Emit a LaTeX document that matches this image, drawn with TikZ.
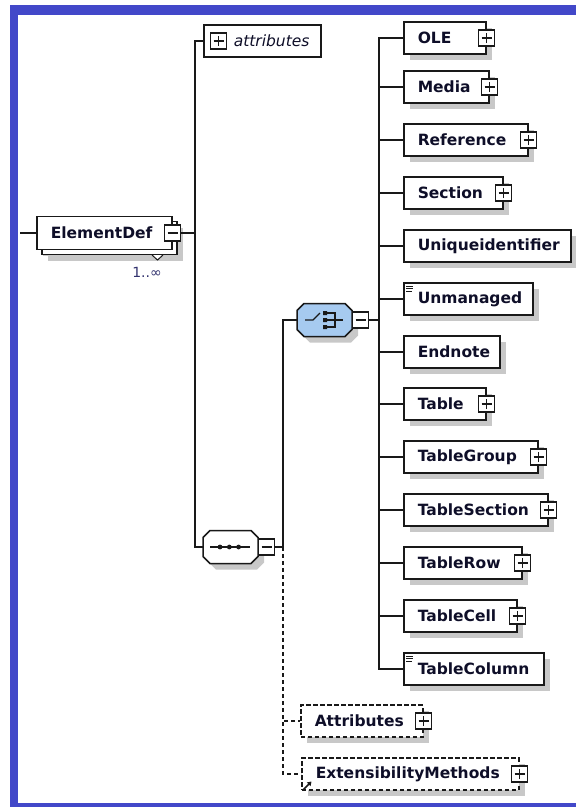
\documentclass[tikz,border=0pt]{standalone}
\usepackage{fontspec}
\setmainfont{DejaVu Sans}
\usetikzlibrary{positioning,shadows,arrows.meta}

\definecolor{frameblue}{RGB}{66,72,201}
\definecolor{choiceblue}{RGB}{166,202,240}
\definecolor{shadowgray}{RGB}{200,200,200}
\definecolor{linec}{RGB}{25,25,25}
\definecolor{textc}{RGB}{14,14,40}
\definecolor{multc}{RGB}{50,50,110}

\tikzset{
  conn/.style={draw=linec, line width=1.5pt},
  optconn/.style={conn, dash pattern=on 4pt off 3pt},
  elem/.style={draw=linec, fill=white, line width=1.5pt, anchor=west,
    minimum height=32, inner xsep=14, inner ysep=0, text width=#1pt, align=left,
    font=\fontsize{15.5}{18}\selectfont\bfseries, text=textc,
    general shadow={fill=shadowgray, shadow xshift=6pt, shadow yshift=-6pt}},
  optelem/.style={elem=#1, dash pattern=on 4.5pt off 2.5pt},
  elemdef/.style={elem=107, minimum height=33,
    general shadow={fill=shadowgray, shadow xshift=11pt, shadow yshift=-11pt},
    general shadow={draw=linec, fill=white, line width=1.5pt, shadow xshift=5pt, shadow yshift=-5pt}},
  pbox/.style={draw=linec, fill=white, line width=1.3pt, minimum size=16, inner sep=0,
    path picture={\draw[linec, line width=1.3pt]
      ([xshift=-5pt]path picture bounding box.center) -- ([xshift=5pt]path picture bounding box.center)
      ([yshift=-5pt]path picture bounding box.center) -- ([yshift=5pt]path picture bounding box.center);}},
  mbox/.style={draw=linec, fill=white, line width=1.3pt, minimum size=16, inner sep=0,
    path picture={\draw[linec, line width=1.3pt]
      ([xshift=-5pt]path picture bounding box.center) -- ([xshift=5pt]path picture bounding box.center);}},
  compositor/.style={rectangle, minimum width=55, minimum height=33, inner sep=0, outer sep=0},
  octo/.style={draw=linec, fill=white, line width=1.5pt,
    general shadow={fill=shadowgray, shadow xshift=6pt, shadow yshift=-6pt}},
  mult/.style={font=\fontsize{14}{16}\selectfont, text=multc, inner sep=0}
}

\begin{document}
\begin{tikzpicture}[x=1pt,y=-1pt]
\useasboundingbox (0,0) rectangle (576,807);
% frame
\fill[frameblue] (10,5) rectangle (600,815);
\fill[white] (18,15) rectangle (600,803);

% root element
\coordinate (root) at (20,233);
\node[elemdef] (elemdef) at (36,233) {ElementDef};
\filldraw[fill=white, draw=linec, line width=1pt] (152,255) -- (157.5,260) -- (163,255);
\node[mbox] (elemdef-m) at (elemdef.east) {};
\node[mult] (elemdef-n) at (147,272) {1..∞};
\draw[conn] (root) -- (elemdef.west);

% attribute group
\node[draw=linec, fill=white, line width=1.5pt, anchor=west, minimum height=32,
  inner xsep=8, inner ysep=0, text width=101pt, align=left,
  font=\fontsize{15.5}{18}\selectfont, text=textc] (attrs) at (203,41) {\hspace*{22pt}\textit{attributes}};
\node[pbox] (attrs-p) at ([xshift=15.5pt]attrs.west) {};

% sequence and choice
\node[compositor] (seq) at (230.5,547) {};
\draw[octo] ([xshift=7pt]seq.north west) -- ([xshift=-7pt]seq.north east) -- ([yshift=-7pt]seq.north east)
  -- ([yshift=7pt]seq.south east) -- ([xshift=-7pt]seq.south east) -- ([xshift=7pt]seq.south west)
  -- ([yshift=7pt]seq.south west) -- ([yshift=-7pt]seq.north west) -- cycle;
\node[mbox, right=0pt of seq] (seq-m) {};
\draw[linec, line width=1.3pt] (210,547) -- (250,547);
\fill[linec] (220,547) circle (2.4) (229.3,547) circle (2.4) (238.6,547) circle (2.4);

\node[compositor] (choice) at (324.5,320) {};
\draw[octo, fill=choiceblue] ([xshift=7pt]choice.north west) -- ([xshift=-7pt]choice.north east) -- ([yshift=-7pt]choice.north east)
  -- ([yshift=7pt]choice.south east) -- ([xshift=-7pt]choice.south east) -- ([xshift=7pt]choice.south west)
  -- ([yshift=7pt]choice.south west) -- ([yshift=-7pt]choice.north west) -- cycle;
\node[mbox, right=0pt of choice] (choice-m) {};
\draw[linec, line width=1.3pt] (305,320) -- (313,320) -- (320,313);
\fill[linec] (323,311) rectangle (327,315) (323,318) rectangle (327,322) (323,325) rectangle (327,329);
\draw[linec, line width=1.3pt] (327,313) -- (335,313) -- (335,327) -- (327,327) (327,320) -- (343,320);

\coordinate (bus) at (195,233);
\draw[conn] (elemdef-m.east) -- (bus);
\draw[conn] (attrs.west) -| (bus) |- (seq.west);
\coordinate (sbus) at (283,547);
\draw[conn] (seq-m.east) -- (sbus) |- (choice.west);
\coordinate (cbus) at (379,320);
\draw[conn] (choice-m.east) -- (cbus);

% choice children
\node[elem=54] (ole) at (403,38) {OLE};
\node[pbox] (ole-p) at (ole.east) {};
\node[elem=57] (media) at (403,87) {Media};
\node[pbox] (media-p) at (media.east) {};
\node[elem=96] (reference) at (403,140) {Reference};
\node[pbox] (reference-p) at (reference.east) {};
\node[elem=71] (section) at (403,193) {Section};
\node[pbox] (section-p) at (section.east) {};
\node[elem=139] (uniqueid) at (403,246) {Uniqueidentifier};
\node[elem=101] (unmanaged) at (403,299) {Unmanaged};
\draw[linec, line width=0.8pt] (406,286) -- ++(7,0) (406,288.5) -- ++(7,0) (406,291) -- ++(6,0);
\node[elem=68] (endnote) at (403,352) {Endnote};
\node[elem=54] (table) at (403,404) {Table};
\node[pbox] (table-p) at (table.east) {};
\node[elem=106] (tablegroup) at (403,457) {TableGroup};
\node[pbox] (tablegroup-p) at (tablegroup.east) {};
\node[elem=116] (tablesection) at (403,510) {TableSection};
\node[pbox] (tablesection-p) at (tablesection.east) {};
\node[elem=90] (tablerow) at (403,563) {TableRow};
\node[pbox] (tablerow-p) at (tablerow.east) {};
\node[elem=85] (tablecell) at (403,616) {TableCell};
\node[pbox] (tablecell-p) at (tablecell.east) {};
\node[elem=112] (tablecolumn) at (403,669) {TableColumn};
\draw[linec, line width=0.8pt] (406,656) -- ++(7,0) (406,658.5) -- ++(7,0) (406,661) -- ++(6,0);

\draw[conn] (cbus) |- (ole.west);
\draw[conn] (cbus) |- (media.west);
\draw[conn] (cbus) |- (reference.west);
\draw[conn] (cbus) |- (section.west);
\draw[conn] (cbus) |- (uniqueid.west);
\draw[conn] (cbus) |- (unmanaged.west);
\draw[conn] (cbus) |- (endnote.west);
\draw[conn] (cbus) |- (table.west);
\draw[conn] (cbus) |- (tablegroup.west);
\draw[conn] (cbus) |- (tablesection.west);
\draw[conn] (cbus) |- (tablerow.west);
\draw[conn] (cbus) |- (tablecell.west);
\draw[conn] (cbus) |- (tablecolumn.west);

% optional elements
\node[optelem=94] (attribs) at (300,721) {Attributes};
\node[pbox] (attribs-p) at (attribs.east) {};
\node[optelem=189] (extmeth) at (301,774) {ExtensibilityMethods};
\node[pbox] (extmeth-p) at (extmeth.east) {};
\draw[linec, line width=1.6pt, -{Triangle[length=4pt,width=5pt]}] (303.5,789.5) -- (311.5,781.5);
\draw[optconn] (sbus) |- (attribs.west);
\draw[optconn] (sbus) |- (extmeth.west);
\end{tikzpicture}
\end{document}
